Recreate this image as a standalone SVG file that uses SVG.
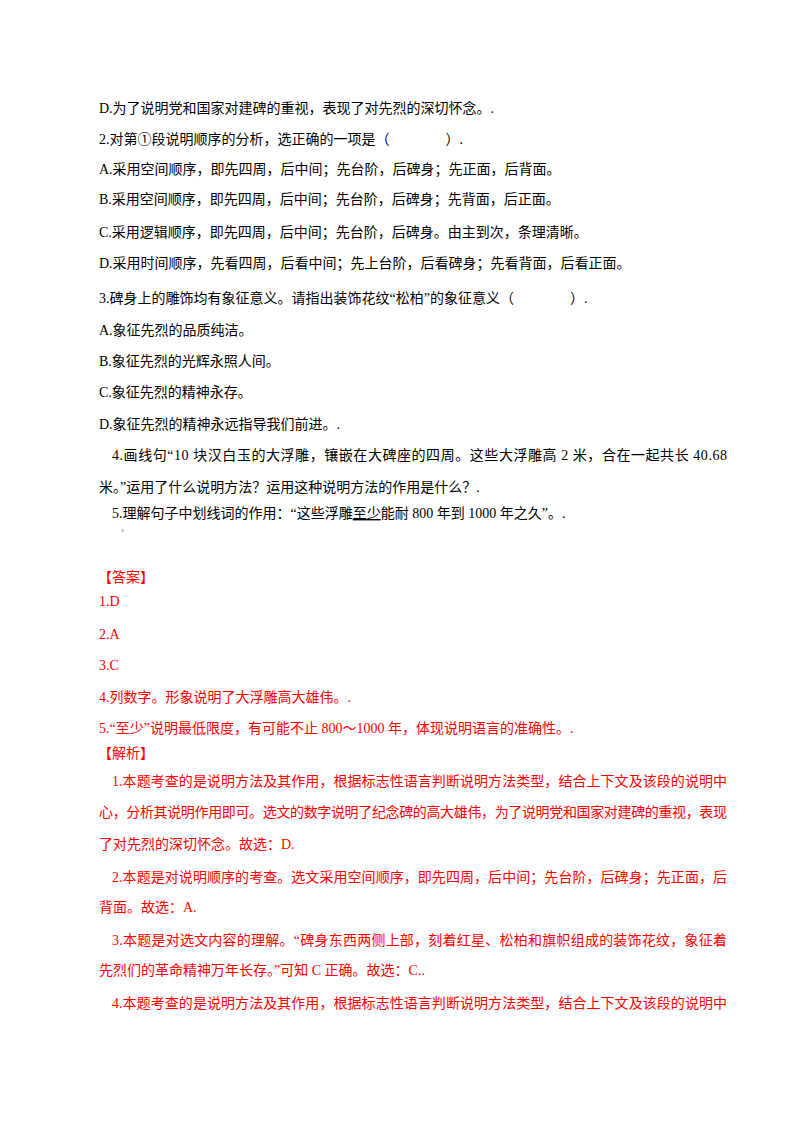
<svg xmlns="http://www.w3.org/2000/svg" width="800" height="1132" viewBox="0 0 800 1132">
<style>
text{font-family:"Liberation Serif","Noto Sans CJK SC",serif;font-size:14px;fill:#000}
.r{fill:#ff0000}
</style>
<rect width="800" height="1132" fill="#fff"/>
<text x="99" y="113">D.为了说明党和国家对建碑的重视，表现了对先烈的深切怀念。.</text>
<text x="99" y="144">2.对第①段说明顺序的分析，选正确的一项是（　　　　）.</text>
<text x="99" y="174">A.采用空间顺序，即先四周，后中间；先台阶，后碑身；先正面，后背面。</text>
<text x="99" y="204">B.采用空间顺序，即先四周，后中间；先台阶，后碑身；先背面，后正面。</text>
<text x="99" y="237">C.采用逻辑顺序，即先四周，后中间；先台阶，后碑身。由主到次，条理清晰。</text>
<text x="99" y="268">D.采用时间顺序，先看四周，后看中间；先上台阶，后看碑身；先看背面，后看正面。</text>
<text x="99" y="303">3.碑身上的雕饰均有象征意义。请指出装饰花纹“松柏”的象征意义（　　　　）.</text>
<text x="99" y="335">A.象征先烈的品质纯洁。</text>
<text x="99" y="366">B.象征先烈的光辉永照人间。</text>
<text x="99" y="397">C.象征先烈的精神永存。</text>
<text x="99" y="429">D.象征先烈的精神永远指导我们前进。.</text>
<text x="112" y="460" textLength="615" lengthAdjust="spacing">4.画线句“10 块汉白玉的大浮雕，镶嵌在大碑座的四周。这些大浮雕高 2 米，合在一起共长 40.68</text>
<text x="99" y="492">米。”运用了什么说明方法？运用这种说明方法的作用是什么？.</text>
<text x="112" y="518">5.理解句子中划线词的作用：“这些浮雕<tspan style="text-decoration:underline">至少</tspan>能耐 800 年到 1000 年之久”。.</text>
<text x="121" y="531" style="font-size:8px;fill:#888">。</text>
<g class="r">
<text class="r" x="98" y="582">【答案】</text>
<text class="r" x="99" y="606">1.D</text>
<text class="r" x="99" y="639">2.A</text>
<text class="r" x="99" y="670">3.C</text>
<text class="r" x="99" y="702">4.列数字。形象说明了大浮雕高大雄伟。.</text>
<text class="r" x="99" y="733">5.“至少”说明最低限度，有可能不止 800～1000 年，体现说明语言的准确性。.</text>
<text class="r" x="98" y="758">【解析】</text>
<text class="r" x="112" y="786" textLength="615" lengthAdjust="spacing">1.本题考查的是说明方法及其作用，根据标志性语言判断说明方法类型，结合上下文及该段的说明中</text>
<text class="r" x="99" y="817" textLength="628" lengthAdjust="spacing">心，分析其说明作用即可。选文的数字说明了纪念碑的高大雄伟，为了说明党和国家对建碑的重视，表现</text>
<text class="r" x="99" y="849">了对先烈的深切怀念。故选：D.</text>
<text class="r" x="112" y="882" textLength="615" lengthAdjust="spacing">2.本题是对说明顺序的考查。选文采用空间顺序，即先四周，后中间；先台阶，后碑身；先正面，后</text>
<text class="r" x="99" y="912">背面。故选：A.</text>
<text class="r" x="112" y="945" textLength="615" lengthAdjust="spacing">3.本题是对选文内容的理解。“碑身东西两侧上部，刻着红星、松柏和旗帜组成的装饰花纹，象征着</text>
<text class="r" x="99" y="975">先烈们的革命精神万年长存。”可知 C 正确。故选：C..</text>
<text class="r" x="112" y="1008" textLength="615" lengthAdjust="spacing">4.本题考查的是说明方法及其作用，根据标志性语言判断说明方法类型，结合上下文及该段的说明中</text>
</g>
</svg>
